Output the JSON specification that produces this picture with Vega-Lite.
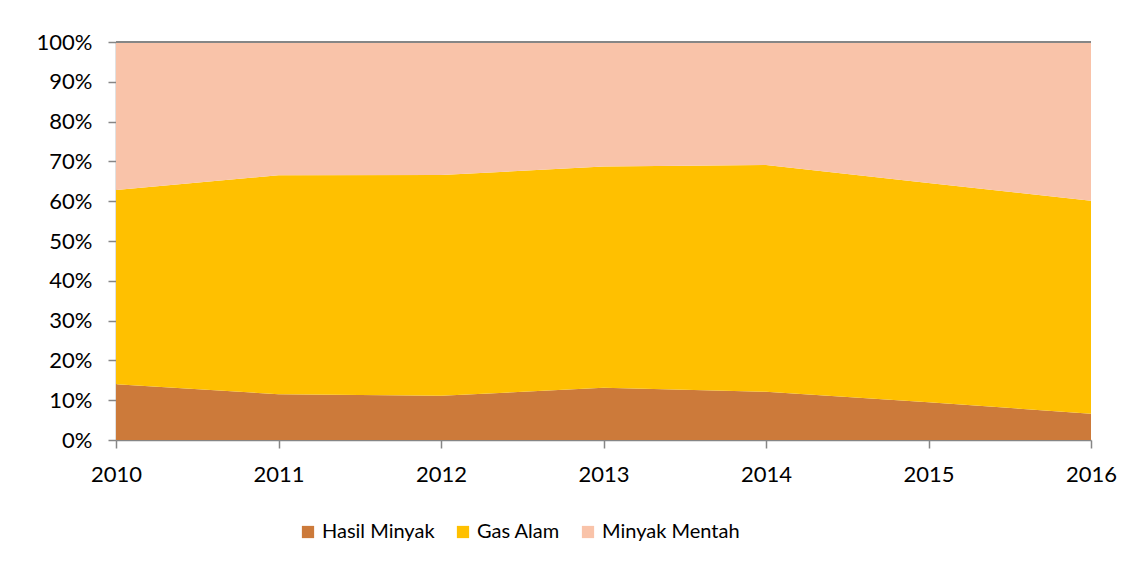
{
  "$schema": "https://vega.github.io/schema/vega-lite/v6.json",
  "width": 975,
  "height": 398,
  "autosize": "none",
  "padding": {"left": 116, "top": 42, "right": 54, "bottom": 125},
  "background": "white",
  "data": {
    "values": [
      {"year": 2010, "series": "Hasil Minyak", "ord": 1, "value": 14.0},
      {"year": 2011, "series": "Hasil Minyak", "ord": 1, "value": 11.5},
      {"year": 2012, "series": "Hasil Minyak", "ord": 1, "value": 11.1},
      {"year": 2013, "series": "Hasil Minyak", "ord": 1, "value": 13.1},
      {"year": 2014, "series": "Hasil Minyak", "ord": 1, "value": 12.1},
      {"year": 2015, "series": "Hasil Minyak", "ord": 1, "value": 9.5},
      {"year": 2016, "series": "Hasil Minyak", "ord": 1, "value": 6.6},
      {"year": 2010, "series": "Gas Alam", "ord": 2, "value": 48.8},
      {"year": 2011, "series": "Gas Alam", "ord": 2, "value": 55.0},
      {"year": 2012, "series": "Gas Alam", "ord": 2, "value": 55.5},
      {"year": 2013, "series": "Gas Alam", "ord": 2, "value": 55.6},
      {"year": 2014, "series": "Gas Alam", "ord": 2, "value": 57.0},
      {"year": 2015, "series": "Gas Alam", "ord": 2, "value": 55.1},
      {"year": 2016, "series": "Gas Alam", "ord": 2, "value": 53.5},
      {"year": 2010, "series": "Minyak Mentah", "ord": 3, "value": 37.2},
      {"year": 2011, "series": "Minyak Mentah", "ord": 3, "value": 33.5},
      {"year": 2012, "series": "Minyak Mentah", "ord": 3, "value": 33.4},
      {"year": 2013, "series": "Minyak Mentah", "ord": 3, "value": 31.3},
      {"year": 2014, "series": "Minyak Mentah", "ord": 3, "value": 30.9},
      {"year": 2015, "series": "Minyak Mentah", "ord": 3, "value": 35.4},
      {"year": 2016, "series": "Minyak Mentah", "ord": 3, "value": 39.9}
    ]
  },
  "layer": [
    {
      "mark": {"type": "area", "interpolate": "linear"},
      "encoding": {
        "x": {
          "field": "year",
          "type": "quantitative",
          "scale": {"domain": [2010, 2016], "nice": false, "zero": false},
          "axis": {"values": [2010, 2011, 2012, 2013, 2014, 2015, 2016], "format": "d", "labelPadding": 16, "title": null}
        },
        "y": {
          "field": "value",
          "type": "quantitative",
          "stack": "normalize",
          "scale": {"domain": [0, 1], "nice": false},
          "axis": {"values": [0, 0.1, 0.2, 0.3, 0.4, 0.5, 0.6, 0.7, 0.8, 0.9, 1], "format": ".0%", "labelPadding": 16, "title": null}
        },
        "color": {
          "field": "series",
          "type": "nominal",
          "scale": {"domain": ["Hasil Minyak", "Gas Alam", "Minyak Mentah"], "range": ["#CC7A3A", "#FFC000", "#F9C3A9"]},
          "legend": {
            "orient": "none",
            "legendX": 182,
            "legendY": 480,
            "direction": "horizontal",
            "title": null,
            "symbolType": "square",
            "symbolSize": 150,
            "symbolStrokeWidth": 0,
            "labelFont": "Lato",
            "labelFontSize": 20,
            "labelColor": "#000000",
            "labelOffset": 4,
            "columnPadding": 18
          }
        },
        "order": {"field": "ord", "type": "quantitative"}
      }
    },
    {
      "mark": {"type": "rule", "color": "#868686", "strokeWidth": 1.5},
      "encoding": {
        "y": {
          "datum": 1,
          "type": "quantitative",
          "scale": {"domain": [0, 1], "nice": false},
          "axis": {"values": [0, 0.1, 0.2, 0.3, 0.4, 0.5, 0.6, 0.7, 0.8, 0.9, 1], "format": ".0%", "labelPadding": 16, "title": null}
        }
      }
    }
  ],
  "config": {
    "view": {"stroke": null},
    "axis": {
      "grid": false,
      "domainColor": "#868686",
      "domainWidth": 1.5,
      "tickColor": "#868686",
      "tickWidth": 1.5,
      "tickSize": 8,
      "labelFont": "Lato",
      "labelFontSize": 22,
      "labelColor": "#000000",
      "labelOverlap": false,
      "labelFlush": false
    }
  }
}
